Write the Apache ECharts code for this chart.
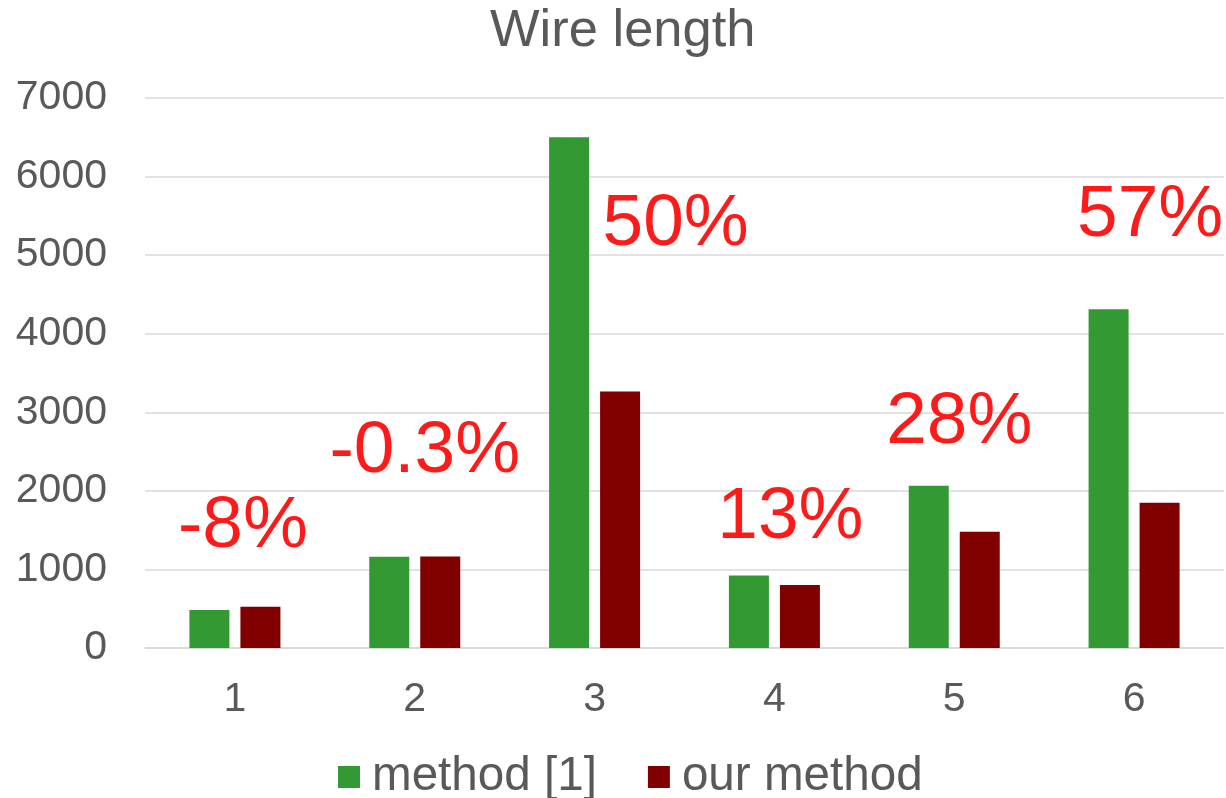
<!DOCTYPE html>
<html>
<head>
<meta charset="utf-8">
<title>Wire length</title>
<script src="https://cdn.jsdelivr.net/npm/echarts@6/dist/echarts.min.js"></script>
<style>
  html, body { margin: 0; padding: 0; background: #ffffff; }
  #chart { width: 1226px; height: 798px; }
</style>
</head>
<body>
<div id="chart"></div>
<script>
// Benchmark cases and the wire length each method produces
const categories = ['1', '2', '3', '4', '5', '6'];
const method1 = [485, 1160, 6500, 922, 2064, 4310];
const ourMethod = [524, 1163.5, 3265, 803, 1478, 1850];
const seriesNames = ['method [1]', 'our method'];
const yTicks = [0, 1000, 2000, 3000, 4000, 5000, 6000, 7000];

// Where each reduction note sits: height on the value axis and a sideways nudge in px
const notePlacement = {
  height: [1538, 2493, 5386, 1653, 2863, 5500],
  dx: [8, 10, 81, 16, 5, 16]
};

// Reduction of "our method" relative to method [1], in percent
function reductionText(i) {
  const pct = (method1[i] - ourMethod[i]) / method1[i] * 100;
  const shown = Math.abs(pct) < 1 ? pct.toFixed(1) : String(Math.round(pct));
  return shown + '%';
}

const FONT = "'Liberation Sans', Arial, sans-serif";
const GREY = '#595959';
const GRID_LINE = '#d9d9d9';
const NOTE_RED = '#ff1a1a';

const chart = echarts.init(document.getElementById('chart'), null, { renderer: 'canvas' });

chart.setOption({
  backgroundColor: '#ffffff',
  animation: false,
  textStyle: { fontFamily: FONT },
  title: {
    text: 'Wire length',
    left: 490,
    top: 5,
    padding: 0,
    textStyle: { fontFamily: FONT, fontSize: 52.5, fontWeight: 'normal', color: GREY }
  },
  legend: {
    data: seriesNames,
    left: 333,
    top: 748,
    itemWidth: 22,
    itemHeight: 22,
    itemGap: 51,
    icon: 'rect',
    textStyle: { fontFamily: FONT, fontSize: 47.6, color: GREY, padding: [0, 0, 0, 7] }
  },
  grid: { left: 145, right: 2, top: 98, bottom: 150, containLabel: false },
  xAxis: {
    type: 'category',
    data: categories,
    axisLine: { show: true, lineStyle: { color: GRID_LINE, width: 1.5 } },
    axisTick: { show: false },
    axisLabel: { fontFamily: FONT, fontSize: 41, color: GREY, margin: 31 },
    splitLine: { show: false }
  },
  yAxis: {
    type: 'value',
    min: yTicks[0],
    max: yTicks[yTicks.length - 1],
    interval: yTicks[1] - yTicks[0],
    axisLine: { show: false },
    axisTick: { show: false },
    axisLabel: {
      fontFamily: FONT, fontSize: 41, color: GREY, margin: 38,
      formatter: (v) => String(v)
    },
    splitLine: { show: true, lineStyle: { color: GRID_LINE, width: 1.5 } }
  },
  series: [
    {
      name: seriesNames[0],
      type: 'bar',
      data: method1,
      barWidth: 40,
      barGap: '27.5%',
      itemStyle: { color: '#339933' }
    },
    {
      name: seriesNames[1],
      type: 'bar',
      data: ourMethod,
      barWidth: 40,
      itemStyle: { color: '#800000' }
    },
    {
      // Reduction notes, anchored on the category axis
      name: 'reduction',
      type: 'scatter',
      symbolSize: 0,
      itemStyle: { color: NOTE_RED, opacity: 1 },
      silent: true,
      z: 5,
      data: categories.map((c, i) => ({
        value: [i, notePlacement.height[i]],
        label: {
          show: true,
          position: 'inside',
          offset: [notePlacement.dx[i], 0],
          formatter: () => reductionText(i),
          fontFamily: FONT,
          fontSize: 73,
          color: NOTE_RED,
          textBorderWidth: 0,
          opacity: 1
        }
      }))
    }
  ]
});
</script>
</body>
</html>
